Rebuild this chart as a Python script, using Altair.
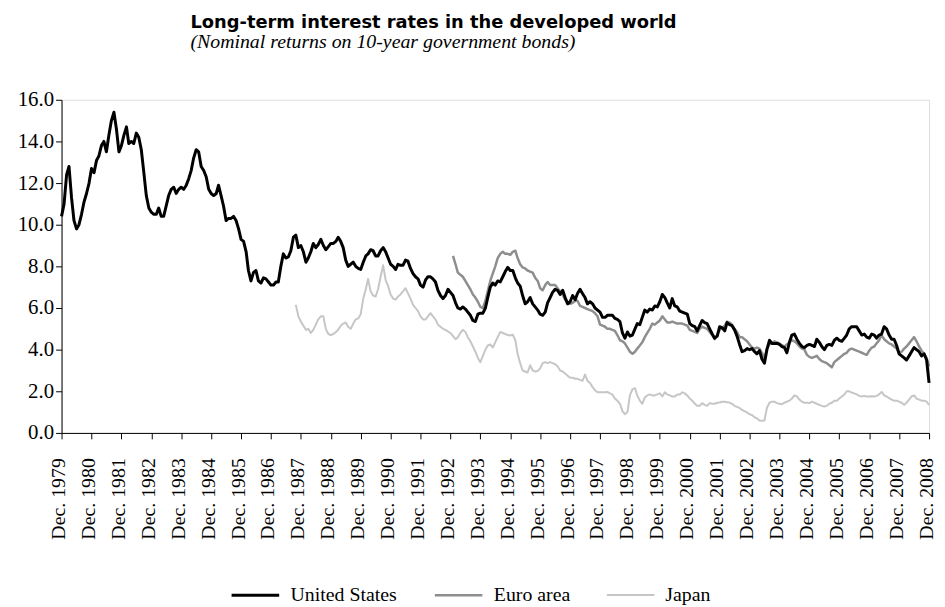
import altair as alt
import pandas as pd

SERIES = ["United States", "Euro area", "Japan"]
COLORS = ["#000000", "#8c8e90", "#c4c6c8"]
WIDTHS = [3.0, 2.0, 2.0]

# Monthly values, United States from Dec. 1979
US = [
    10.4,
    11.0, 12.4, 12.8, 11.3, 10.2, 9.8, 10.0, 10.5, 11.1, 11.5, 12.0, 12.7,   # 1980
    12.5, 13.1, 13.3, 13.8, 14.0, 13.5, 14.3, 15.0, 15.4, 14.6, 13.5, 13.8,  # 1981
    14.3, 14.7, 13.9, 14.0, 13.9, 14.4, 14.2, 13.6, 12.5, 11.4, 10.8, 10.6,  # 1982
    10.5, 10.5, 10.8, 10.4, 10.4, 10.9, 11.4, 11.7, 11.8, 11.5, 11.7, 11.8,  # 1983
    11.7, 11.9, 12.2, 12.6, 13.2, 13.6, 13.5, 12.8, 12.6, 12.3, 11.7, 11.5,  # 1984
    11.4, 11.5, 11.9, 11.4, 10.9, 10.2, 10.3, 10.3, 10.4, 10.2, 9.8, 9.3,    # 1985
    9.2, 8.7, 7.8, 7.3, 7.7, 7.8, 7.3, 7.2, 7.45, 7.4, 7.25, 7.1,            # 1986
    7.1, 7.25, 7.25, 8.0, 8.6, 8.4, 8.45, 8.75, 9.4, 9.5, 8.9, 9.0,          # 1987
    8.7, 8.2, 8.4, 8.7, 9.1, 8.9, 9.05, 9.3, 9.0, 8.8, 8.95, 9.1,            # 1988
    9.1, 9.2, 9.4, 9.2, 8.9, 8.3, 8.0, 8.1, 8.2, 8.0, 7.9, 7.85,             # 1989
    8.2, 8.5, 8.6, 8.8, 8.75, 8.5, 8.5, 8.75, 8.9, 8.7, 8.4, 8.1,            # 1990
    8.0, 7.85, 8.1, 8.05, 8.05, 8.3, 8.25, 7.9, 7.65, 7.5, 7.4, 7.1,         # 1991
    7.0, 7.35, 7.5, 7.5, 7.4, 7.25, 6.85, 6.6, 6.45, 6.6, 6.9, 6.75,         # 1992
    6.6, 6.25, 6.0, 5.95, 6.05, 5.95, 5.8, 5.65, 5.4, 5.35, 5.7, 5.75,       # 1993
    5.75, 6.0, 6.5, 7.0, 7.2, 7.1, 7.3, 7.25, 7.5, 7.75, 7.95, 7.8,          # 1994
    7.8, 7.45, 7.2, 7.05, 6.6, 6.2, 6.3, 6.5, 6.2, 6.05, 5.9, 5.7,           # 1995
    5.65, 5.8, 6.25, 6.5, 6.75, 6.9, 6.85, 6.65, 6.85, 6.5, 6.2, 6.3,        # 1996
    6.6, 6.4, 6.7, 6.9, 6.7, 6.5, 6.2, 6.3, 6.2, 6.0, 5.9, 5.8,              # 1997
    5.55, 5.55, 5.65, 5.65, 5.65, 5.5, 5.45, 5.35, 4.8, 4.55, 4.85, 4.65,    # 1998
    4.7, 5.0, 5.25, 5.2, 5.55, 5.9, 5.8, 5.95, 5.9, 6.1, 6.05, 6.3,          # 1999
    6.65, 6.5, 6.25, 6.0, 6.45, 6.1, 6.05, 5.85, 5.8, 5.75, 5.7, 5.25,       # 2000
    5.15, 5.1, 4.9, 5.15, 5.4, 5.3, 5.25, 5.0, 4.75, 4.55, 4.65, 5.1,        # 2001
    5.05, 4.9, 5.3, 5.2, 5.15, 4.95, 4.65, 4.25, 3.9, 3.95, 4.05, 4.0,       # 2002
    4.05, 3.9, 3.8, 3.95, 3.55, 3.35, 4.0, 4.45, 4.3, 4.3, 4.3, 4.25,        # 2003
    4.15, 4.1, 3.85, 4.35, 4.7, 4.75, 4.5, 4.3, 4.15, 4.1, 4.2, 4.25,        # 2004
    4.2, 4.15, 4.5, 4.35, 4.15, 4.0, 4.2, 4.25, 4.2, 4.45, 4.55, 4.45,       # 2005
    4.4, 4.55, 4.7, 5.0, 5.1, 5.1, 5.1, 4.9, 4.7, 4.75, 4.6, 4.55,           # 2006
    4.75, 4.7, 4.55, 4.7, 4.75, 5.1, 5.0, 4.7, 4.5, 4.5, 4.2, 3.8,           # 2007
    3.7, 3.6, 3.5, 3.7, 3.9, 4.1, 4.0, 3.9, 3.7, 3.8, 3.5, 2.4,              # 2008
]

# Monthly values, Euro area from Jan. 1993
EURO = [
    8.5, 8.1, 7.7, 7.6, 7.5, 7.3, 7.1, 6.9, 6.65, 6.5, 6.3, 6.05,            # 1993
    6.0, 6.35, 6.8, 7.3, 7.65, 8.0, 8.4, 8.6, 8.7, 8.6, 8.6, 8.55,           # 1994
    8.7, 8.75, 8.4, 8.1, 7.95, 7.9, 7.8, 7.75, 7.7, 7.45, 7.3, 6.95,         # 1995
    6.85, 7.1, 7.25, 7.1, 7.1, 7.1, 6.95, 6.8, 6.65, 6.4, 6.3, 6.2,          # 1996
    6.25, 6.35, 6.35, 6.1, 6.05, 6.0, 5.95, 5.9, 5.85, 5.75, 5.6, 5.2,       # 1997
    5.15, 5.1, 5.0, 5.0, 4.95, 4.9, 4.7, 4.45, 4.4, 4.3, 4.1, 3.9,           # 1998
    3.8, 3.9, 4.05, 4.2, 4.35, 4.6, 4.8, 5.0, 5.25, 5.2, 5.3, 5.4,           # 1999
    5.6, 5.45, 5.3, 5.3, 5.35, 5.3, 5.25, 5.25, 5.25, 5.2, 5.15, 4.95,       # 2000
    4.9, 4.85, 4.8, 5.0, 5.1, 5.05, 5.0, 4.85, 4.7, 4.5, 4.7, 4.95,          # 2001
    5.05, 5.15, 5.35, 5.3, 5.2, 5.0, 4.85, 4.6, 4.6, 4.5, 4.4, 4.25,         # 2002
    4.1, 4.05, 4.1, 4.05, 3.85, 3.6, 4.05, 4.25, 4.3, 4.4, 4.35, 4.3,        # 2003
    4.2, 4.15, 4.25, 4.35, 4.45, 4.4, 4.3, 4.15, 4.05, 4.0, 3.75, 3.65,      # 2004
    3.6, 3.65, 3.7, 3.55, 3.45, 3.4, 3.35, 3.25, 3.15, 3.4, 3.5, 3.6,        # 2005
    3.7, 3.8, 3.85, 4.0, 4.05, 4.0, 3.95, 3.9, 3.85, 3.8, 3.75, 3.95,        # 2006
    4.1, 4.15, 4.3, 4.45, 4.7, 4.5, 4.4, 4.3, 4.25, 4.15, 4.05, 3.85,        # 2007
    3.9, 4.05, 4.15, 4.3, 4.45, 4.6, 4.4, 4.15, 3.95, 3.8, 3.6, 3.2,         # 2008
]

# Monthly values, Japan from Oct. 1987
JAPAN = [
    6.15, 5.6, 5.35,                                                          # 1987
    5.15, 4.95, 5.0, 4.8, 4.95, 5.2, 5.45, 5.6, 5.6, 5.0, 4.75, 4.7,         # 1988
    4.75, 4.85, 4.95, 5.15, 5.25, 5.3, 5.1, 5.0, 5.25, 5.45, 5.5, 5.7,       # 1989
    6.45, 6.9, 7.4, 6.8, 6.6, 6.55, 6.9, 7.5, 8.05, 7.35, 7.05, 6.65,        # 1990
    6.45, 6.4, 6.55, 6.65, 6.8, 6.95, 6.7, 6.45, 6.15, 6.0, 5.85, 5.6,       # 1991
    5.45, 5.45, 5.6, 5.75, 5.6, 5.45, 5.2, 5.1, 5.0, 4.95, 4.87, 4.8,        # 1992
    4.65, 4.5, 4.6, 4.8, 4.95, 4.85, 4.6, 4.4, 4.15, 3.9, 3.6, 3.4,          # 1993
    3.7, 4.0, 4.2, 4.25, 4.1, 4.35, 4.6, 4.85, 4.8, 4.75, 4.7, 4.68,         # 1994
    4.72, 4.45, 3.8, 3.35, 3.0, 2.95, 2.9, 3.25, 3.0, 2.95, 2.97, 3.1,       # 1995
    3.35, 3.4, 3.35, 3.4, 3.35, 3.3, 3.2, 3.0, 2.95, 2.85, 2.75, 2.65,       # 1996
    2.65, 2.6, 2.6, 2.55, 2.5, 2.8, 2.5, 2.4, 2.2, 2.05, 1.95, 1.95,         # 1997
    1.95, 1.95, 1.97, 1.9, 1.85, 1.65, 1.55, 1.4, 1.05, 0.9, 1.0, 1.8,       # 1998
    2.1, 2.15, 1.8, 1.55, 1.4, 1.7, 1.8, 1.85, 1.8, 1.8, 1.85, 1.9,          # 1999
    1.75, 1.95, 1.85, 1.8, 1.75, 1.75, 1.85, 1.85, 1.95, 1.9, 1.8, 1.65,     # 2000
    1.55, 1.4, 1.3, 1.3, 1.43, 1.35, 1.3, 1.43, 1.4, 1.4, 1.45, 1.46,        # 2001
    1.5, 1.5, 1.47, 1.46, 1.4, 1.3, 1.25, 1.2, 1.1, 1.05, 0.98, 0.9,         # 2002
    0.85, 0.75, 0.7, 0.6, 0.58, 0.6, 1.2, 1.45, 1.5, 1.5, 1.43, 1.4,         # 2003
    1.38, 1.45, 1.5, 1.55, 1.65, 1.8, 1.75, 1.6, 1.5, 1.45, 1.45, 1.43,      # 2004
    1.5, 1.45, 1.4, 1.35, 1.3, 1.27, 1.3, 1.4, 1.45, 1.55, 1.55, 1.65,       # 2005
    1.75, 1.85, 2.0, 2.0, 1.94, 1.9, 1.85, 1.78, 1.75, 1.78, 1.75, 1.75,     # 2006
    1.76, 1.75, 1.78, 1.85, 1.97, 1.8, 1.75, 1.67, 1.6, 1.55, 1.55, 1.5,     # 2007
    1.45, 1.35, 1.45, 1.6, 1.75, 1.8, 1.65, 1.6, 1.55, 1.55, 1.5, 1.35,      # 2008
]

STARTS = {"United States": "1979-12-01", "Euro area": "1993-01-01", "Japan": "1987-10-01"}
VALUES = {"United States": US, "Euro area": EURO, "Japan": JAPAN}
TICK_YEARS = list(range(1979, 2009))
Y_TICKS = [0, 2, 4, 6, 8, 10, 12, 14, 16]

frames = []
for name in SERIES:
    vals = VALUES[name]
    dates = pd.date_range(STARTS[name], periods=len(vals), freq="MS")
    frames.append(pd.DataFrame({
        "date": dates.strftime("%Y-%m-%dT00:00:00"),
        "value": vals,
        "series": name,
    }))
df = pd.concat(frames, ignore_index=True)

legend = alt.Legend(
    orient="none", legendX=170, legendY=474, direction="horizontal", title=None,
    symbolType="stroke", symbolSize=2304, labelFont="Liberation Serif",
    labelFontSize=20, labelColor="black", columnPadding=32, labelOffset=10,
    padding=0,
)

x = alt.X(
    "date:T",
    scale=alt.Scale(domain=[alt.DateTime(year=1979, month=12, date=1),
                            alt.DateTime(year=2008, month=12, date=1)]),
    axis=alt.Axis(
        values=[alt.DateTime(year=y, month=12, date=1) for y in TICK_YEARS],
        format="%b. %Y", labelAngle=270, labelAlign="right", labelBaseline="middle",
        labelFont="Liberation Serif", labelFontSize=20, labelColor="black",
        labelPadding=19, labelOffset=-3, tickSize=6, tickColor="black",
        domainColor="black", grid=False, title=None, labelOverlap=False,
        labelFlush=False,
    ),
)
y = alt.Y(
    "value:Q",
    scale=alt.Scale(domain=[0, 16], nice=False),
    axis=alt.Axis(
        values=Y_TICKS, format=".1f", labelFont="Liberation Serif", labelFontSize=21,
        labelColor="black", labelPadding=2, tickSize=6, tickColor="black",
        domainColor="black", grid=False, title=None,
    ),
)
color = alt.Color("series:N", scale=alt.Scale(domain=SERIES, range=COLORS), legend=legend)
swidth = alt.StrokeWidth("series:N", scale=alt.Scale(domain=SERIES, range=WIDTHS), legend=legend)

layers = []
for name in ["Japan", "Euro area", "United States"]:
    layers.append(
        alt.Chart(df).transform_filter(alt.datum.series == name)
        .mark_line(strokeJoin="round", strokeCap="butt")
        .encode(x=x, y=y, color=color, strokeWidth=swidth)
    )

chart = alt.layer(*layers).properties(
    width=875,
    height=336,
    padding={"left": 54, "top": 90, "right": 8, "bottom": 173},
    autosize=alt.AutoSizeParams(type="none"),
    title=alt.Title(
        text="Long-term interest rates in the developed world",
        subtitle="(Nominal returns on 10-year government bonds)",
        anchor="start", frame="group", dx=130, offset=37,
        font="DejaVu Sans", fontWeight="bold", fontSize=18, color="black",
        subtitleFont="Liberation Serif", subtitleFontStyle="italic",
        subtitleFontSize=20, subtitleColor="black", subtitlePadding=0,
    ),
).configure_view(stroke=None).configure(background="white")

chart.save("out.html", embed_options={"renderer": "svg", "actions": False})
